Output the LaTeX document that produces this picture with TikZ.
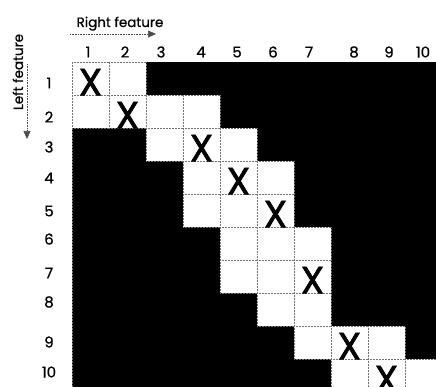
\documentclass[tikz,border=0pt]{standalone}
\usepackage{fontspec}
\setmainfont{Poppins}[FakeBold=0.6]
\newfontfamily\crossfont{Poppins}[FakeBold=1.6]
\usetikzlibrary{arrows.meta}

\begin{document}
\begin{tikzpicture}[x=1pt, y=-1pt, >={Triangle[length=8pt, width=7pt]},
    cell/.style={fill=white, draw=black!55, densely dotted, line width=0.5pt},
    xmark/.style={font=\crossfont\fontsize{38}{38}\selectfont, inner sep=0pt, anchor=south},
    num/.style={font=\fontsize{15}{15}\selectfont, inner sep=0pt},
    axis/.style={font=\fontsize{13.5}{13.5}\selectfont, inner sep=0pt, anchor=base},
    guide/.style={->, densely dotted, black!70, line width=0.6pt}]
    \useasboundingbox (0,0) rectangle (436,387);
    \clip (0,0) rectangle (436,387);
    % Black part of the matrix
    \fill[black] (72,62) rectangle (442,392);
    \draw[black!55, densely dotted, line width=0.5pt] (72,62) -- (72,392);
    % White cells (row / first column / last column)
    \foreach \r/\a/\b in {1/1/2, 2/1/4, 3/3/5, 4/4/6, 5/4/6, 6/5/7, 7/5/7, 8/6/7, 9/7/9, 10/8/10}
        \foreach \c in {\a,...,\b}
            \draw[cell] ({72+37*(\c-1)}, {62+33*(\r-1)}) rectangle +(37,33);
    % Matches
    \foreach \r/\c in {1/1, 2/2, 3/4, 4/5, 5/6, 7/7, 9/8, 10/9}
        \node[xmark] (x-\r) at ({72+37*(\c-0.5)}, {62+33*\r+0.5}) {X};
    % Column and row numbers
    \foreach \c/\x in {1/88, 2/125, 3/161, 4/201, 5/237, 6/273, 7/309, 8/354, 9/389, 10/423}
        \node[num] (col-\c) at (\x,52) {\c};
    \foreach \r/\y in {1/83, 2/117, 3/147, 4/178, 5/211, 6/239, 7/273, 8/302, 9/342, 10/372}
        \node[num] (row-\r) at (49,\y) {\r};
    % Axis titles
    \node[axis] (right) at (120,27) {Right feature};
    \node[axis, rotate=90] (left) at (23,72) {Left feature};
    \coordinate (right-a) at (70,34);
    \coordinate (right-b) at (156,34);
    \coordinate (left-a) at (27,64);
    \coordinate (left-b) at (27,139);
    \draw[guide] (right-a) -- (right-b);
    \draw[guide] (left-a) -- (left-b);
\end{tikzpicture}
\end{document}
